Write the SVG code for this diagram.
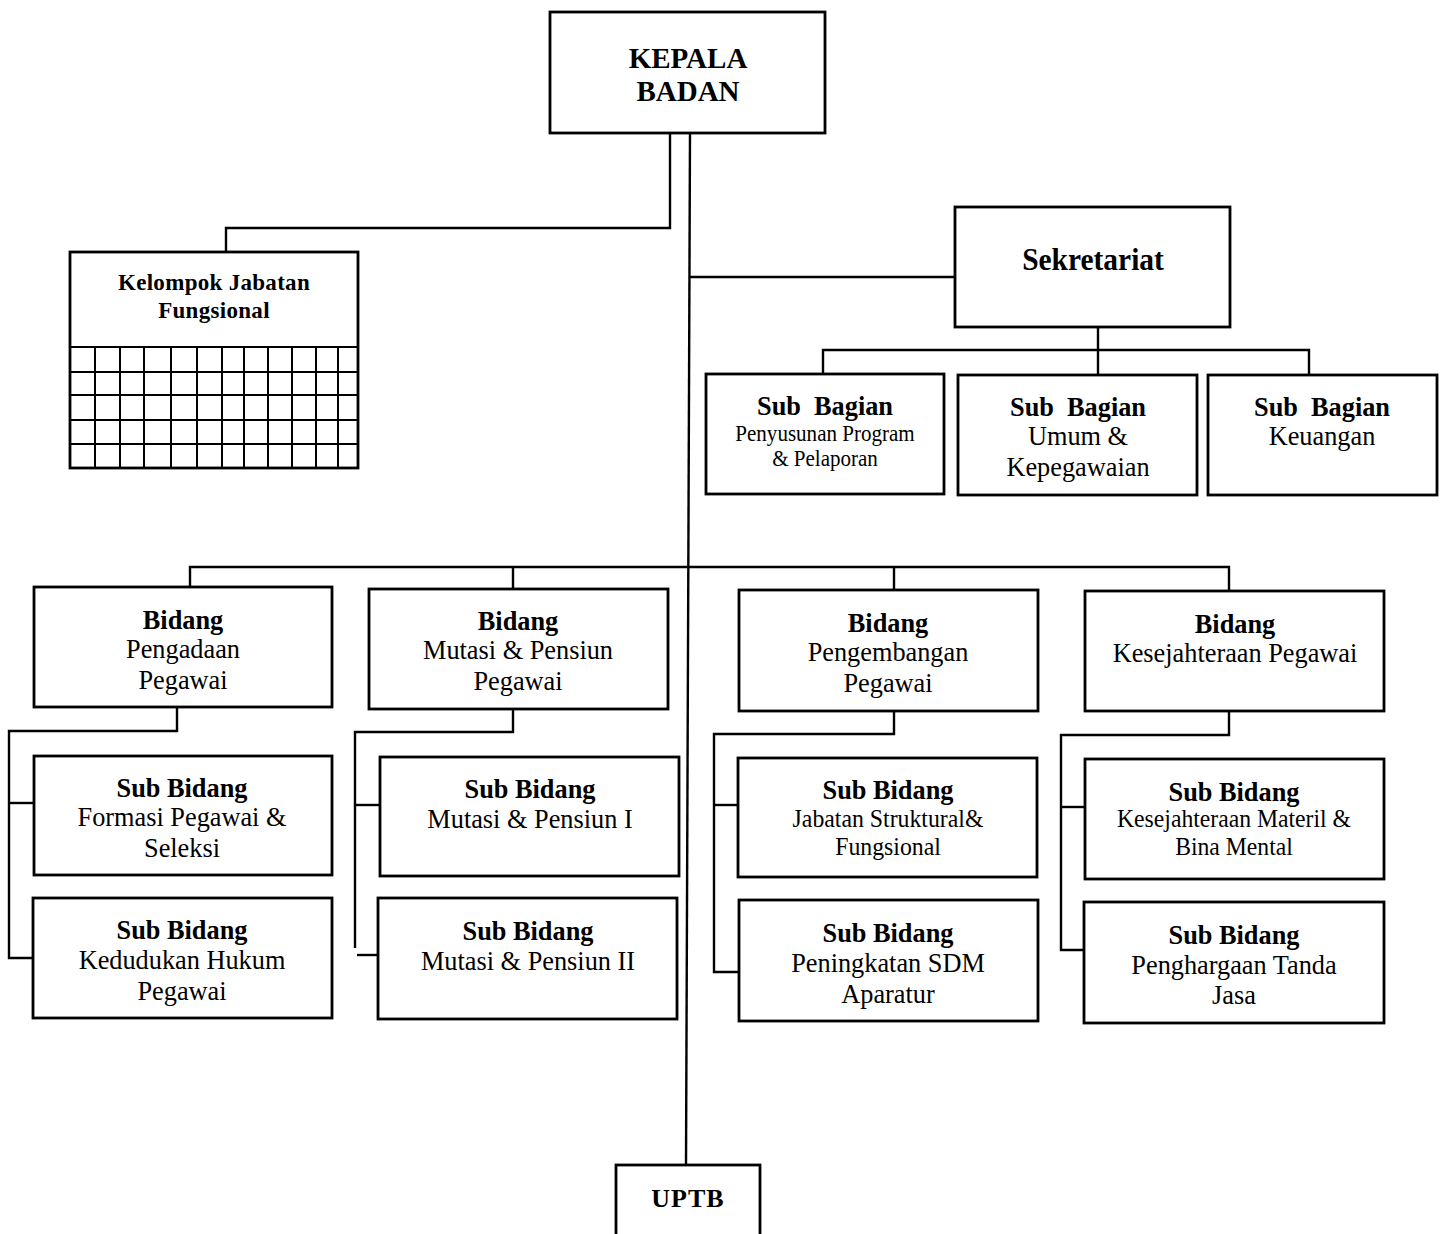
<svg xmlns="http://www.w3.org/2000/svg" width="1443" height="1234" viewBox="0 0 1443 1234">
<style>
.box{fill:#fff;stroke:#000;stroke-width:2.8}
.ln{fill:none;stroke:#000;stroke-width:2.4}
.grid{fill:none;stroke:#000;stroke-width:2}
text{font-family:"Liberation Serif","Times New Roman",serif;fill:#000;text-anchor:middle}
.b{font-weight:bold;font-size:28px}
.r{font-size:28px}
</style>
<rect width="1443" height="1234" fill="#fff"/>
<g id="connectors">
<polyline class="ln" points="670,133 670,228 226,228 226,252"/>
<polyline class="ln" points="690,133 686,1165"/>
<line class="ln" x1="690" y1="277" x2="955" y2="277"/>
<line class="ln" x1="1098" y1="327" x2="1098" y2="375"/>
<polyline class="ln" points="823,374 823,350 1309,350 1309,375"/>
<polyline class="ln" points="190,587 190,567 1229,567 1229,591"/>
<line class="ln" x1="513" y1="567" x2="513" y2="589"/>
<line class="ln" x1="894" y1="567" x2="894" y2="590"/>
<polyline class="ln" points="177,707 177,731 9,731 9,958 33,958"/>
<line class="ln" x1="9" y1="803" x2="34" y2="803"/>
<polyline class="ln" points="513,709 513,732 355,732 355,948"/>
<line class="ln" x1="355" y1="805" x2="380" y2="805"/>
<line class="ln" x1="357" y1="955" x2="378" y2="955"/>
<polyline class="ln" points="894,711 894,734 714,734 714,972 739,972"/>
<line class="ln" x1="714" y1="805" x2="738" y2="805"/>
<polyline class="ln" points="1229,711 1229,735 1061,735 1061,950 1084,950"/>
<line class="ln" x1="1061" y1="807" x2="1085" y2="807"/>
</g>
<g id="kepala">
<rect class="box" x="550" y="12" width="275" height="121"/>
<text class="b" x="688" y="68" style="font-size:29px">KEPALA</text>
<text class="b" x="688" y="101" style="font-size:29px">BADAN</text>
</g>
<g id="kelompok">
<rect class="box" x="70" y="252" width="288" height="216"/>
<line class="grid" x1="70" y1="347" x2="358" y2="347"/>
<path class="grid" d="M70,372H358M70,395H358M70,420H358M70,444H358M95,347V468M120,347V468M144,347V468M171,347V468M197,347V468M222,347V468M244,347V468M268,347V468M292,347V468M316,347V468M338,347V468"/>
<text class="b" x="214" y="290" style="font-size:23px;letter-spacing:0.3px">Kelompok Jabatan</text>
<text class="b" x="214" y="318" style="font-size:23px;letter-spacing:0.3px">Fungsional</text>
</g>
<g id="sekretariat">
<rect class="box" x="955" y="207" width="275" height="120"/>
<g transform="translate(1093,0) scale(0.92,1)"><text class="b" x="0" y="270" style="font-size:32px">Sekretariat</text></g>
</g>
<g id="subbag1">
<rect class="box" x="706" y="374" width="238" height="120"/>
<g transform="translate(825,0) scale(0.94,1)">
<text class="b" x="0" y="415" xml:space="preserve">Sub  Bagian</text>
<text class="r" x="0" y="441" style="font-size:22.4px">Penyusunan Program</text>
<text class="r" x="0" y="466" style="font-size:22.4px">&amp; Pelaporan</text>
</g>
</g>
<g id="subbag2">
<rect class="box" x="958" y="375" width="239" height="120"/>
<g transform="translate(1078,0) scale(0.94,1)">
<text class="b" x="0" y="416" xml:space="preserve">Sub  Bagian</text>
<text class="r" x="0" y="445">Umum &amp;</text>
<text class="r" x="0" y="476">Kepegawaian</text>
</g>
</g>
<g id="subbag3">
<rect class="box" x="1208" y="375" width="229" height="120"/>
<g transform="translate(1322,0) scale(0.94,1)">
<text class="b" x="0" y="416" xml:space="preserve">Sub  Bagian</text>
<text class="r" x="0" y="445">Keuangan</text>
</g>
</g>
<g id="bidang1">
<rect class="box" x="34" y="587" width="298" height="120"/>
<g transform="translate(183,0) scale(0.94,1)">
<text class="b" x="0" y="629">Bidang</text>
<text class="r" x="0" y="658">Pengadaan</text>
<text class="r" x="0" y="689">Pegawai</text>
</g>
</g>
<g id="bidang2">
<rect class="box" x="369" y="589" width="299" height="120"/>
<g transform="translate(518,0) scale(0.94,1)">
<text class="b" x="0" y="630">Bidang</text>
<text class="r" x="0" y="659">Mutasi &amp; Pensiun</text>
<text class="r" x="0" y="690">Pegawai</text>
</g>
</g>
<g id="bidang3">
<rect class="box" x="739" y="590" width="299" height="121"/>
<g transform="translate(888,0) scale(0.94,1)">
<text class="b" x="0" y="632">Bidang</text>
<text class="r" x="0" y="661">Pengembangan</text>
<text class="r" x="0" y="692">Pegawai</text>
</g>
</g>
<g id="bidang4">
<rect class="box" x="1085" y="591" width="299" height="120"/>
<g transform="translate(1235,0) scale(0.94,1)">
<text class="b" x="0" y="633">Bidang</text>
<text class="r" x="0" y="662">Kesejahteraan Pegawai</text>
</g>
</g>
<g id="subbid1a">
<rect class="box" x="34" y="756" width="298" height="119"/>
<g transform="translate(182,0) scale(0.94,1)">
<text class="b" x="0" y="797">Sub Bidang</text>
<text class="r" x="0" y="826">Formasi Pegawai &amp;</text>
<text class="r" x="0" y="857">Seleksi</text>
</g>
</g>
<g id="subbid1b">
<rect class="box" x="33" y="898" width="299" height="120"/>
<g transform="translate(182,0) scale(0.94,1)">
<text class="b" x="0" y="939">Sub Bidang</text>
<text class="r" x="0" y="969">Kedudukan Hukum</text>
<text class="r" x="0" y="1000">Pegawai</text>
</g>
</g>
<g id="subbid2a">
<rect class="box" x="380" y="757" width="299" height="119"/>
<g transform="translate(530,0) scale(0.94,1)">
<text class="b" x="0" y="798">Sub Bidang</text>
<text class="r" x="0" y="828">Mutasi &amp; Pensiun I</text>
</g>
</g>
<g id="subbid2b">
<rect class="box" x="378" y="898" width="299" height="121"/>
<g transform="translate(528,0) scale(0.94,1)">
<text class="b" x="0" y="940">Sub Bidang</text>
<text class="r" x="0" y="970">Mutasi &amp; Pensiun II</text>
</g>
</g>
<g id="subbid3a">
<rect class="box" x="738" y="758" width="299" height="119"/>
<g transform="translate(888,0) scale(0.94,1)">
<text class="b" x="0" y="799">Sub Bidang</text>
<text class="r" x="0" y="827" style="font-size:25.3px">Jabatan Struktural&amp;</text>
<text class="r" x="0" y="855" style="font-size:25.3px">Fungsional</text>
</g>
</g>
<g id="subbid3b">
<rect class="box" x="739" y="900" width="299" height="121"/>
<g transform="translate(888,0) scale(0.94,1)">
<text class="b" x="0" y="942">Sub Bidang</text>
<text class="r" x="0" y="972">Peningkatan SDM</text>
<text class="r" x="0" y="1003">Aparatur</text>
</g>
</g>
<g id="subbid4a">
<rect class="box" x="1085" y="759" width="299" height="120"/>
<g transform="translate(1234,0) scale(0.94,1)">
<text class="b" x="0" y="801">Sub Bidang</text>
<text class="r" x="0" y="827" style="font-size:25.2px">Kesejahteraan Materil &amp;</text>
<text class="r" x="0" y="855" style="font-size:25.2px">Bina Mental</text>
</g>
</g>
<g id="subbid4b">
<rect class="box" x="1084" y="902" width="300" height="121"/>
<g transform="translate(1234,0) scale(0.94,1)">
<text class="b" x="0" y="944">Sub Bidang</text>
<text class="r" x="0" y="974">Penghargaan Tanda</text>
<text class="r" x="0" y="1004">Jasa</text>
</g>
</g>
<g id="uptb">
<rect class="box" x="616" y="1165" width="144" height="80"/>
<text class="b" x="688" y="1207" style="font-size:26px;letter-spacing:1px">UPTB</text>
</g>
</svg>
